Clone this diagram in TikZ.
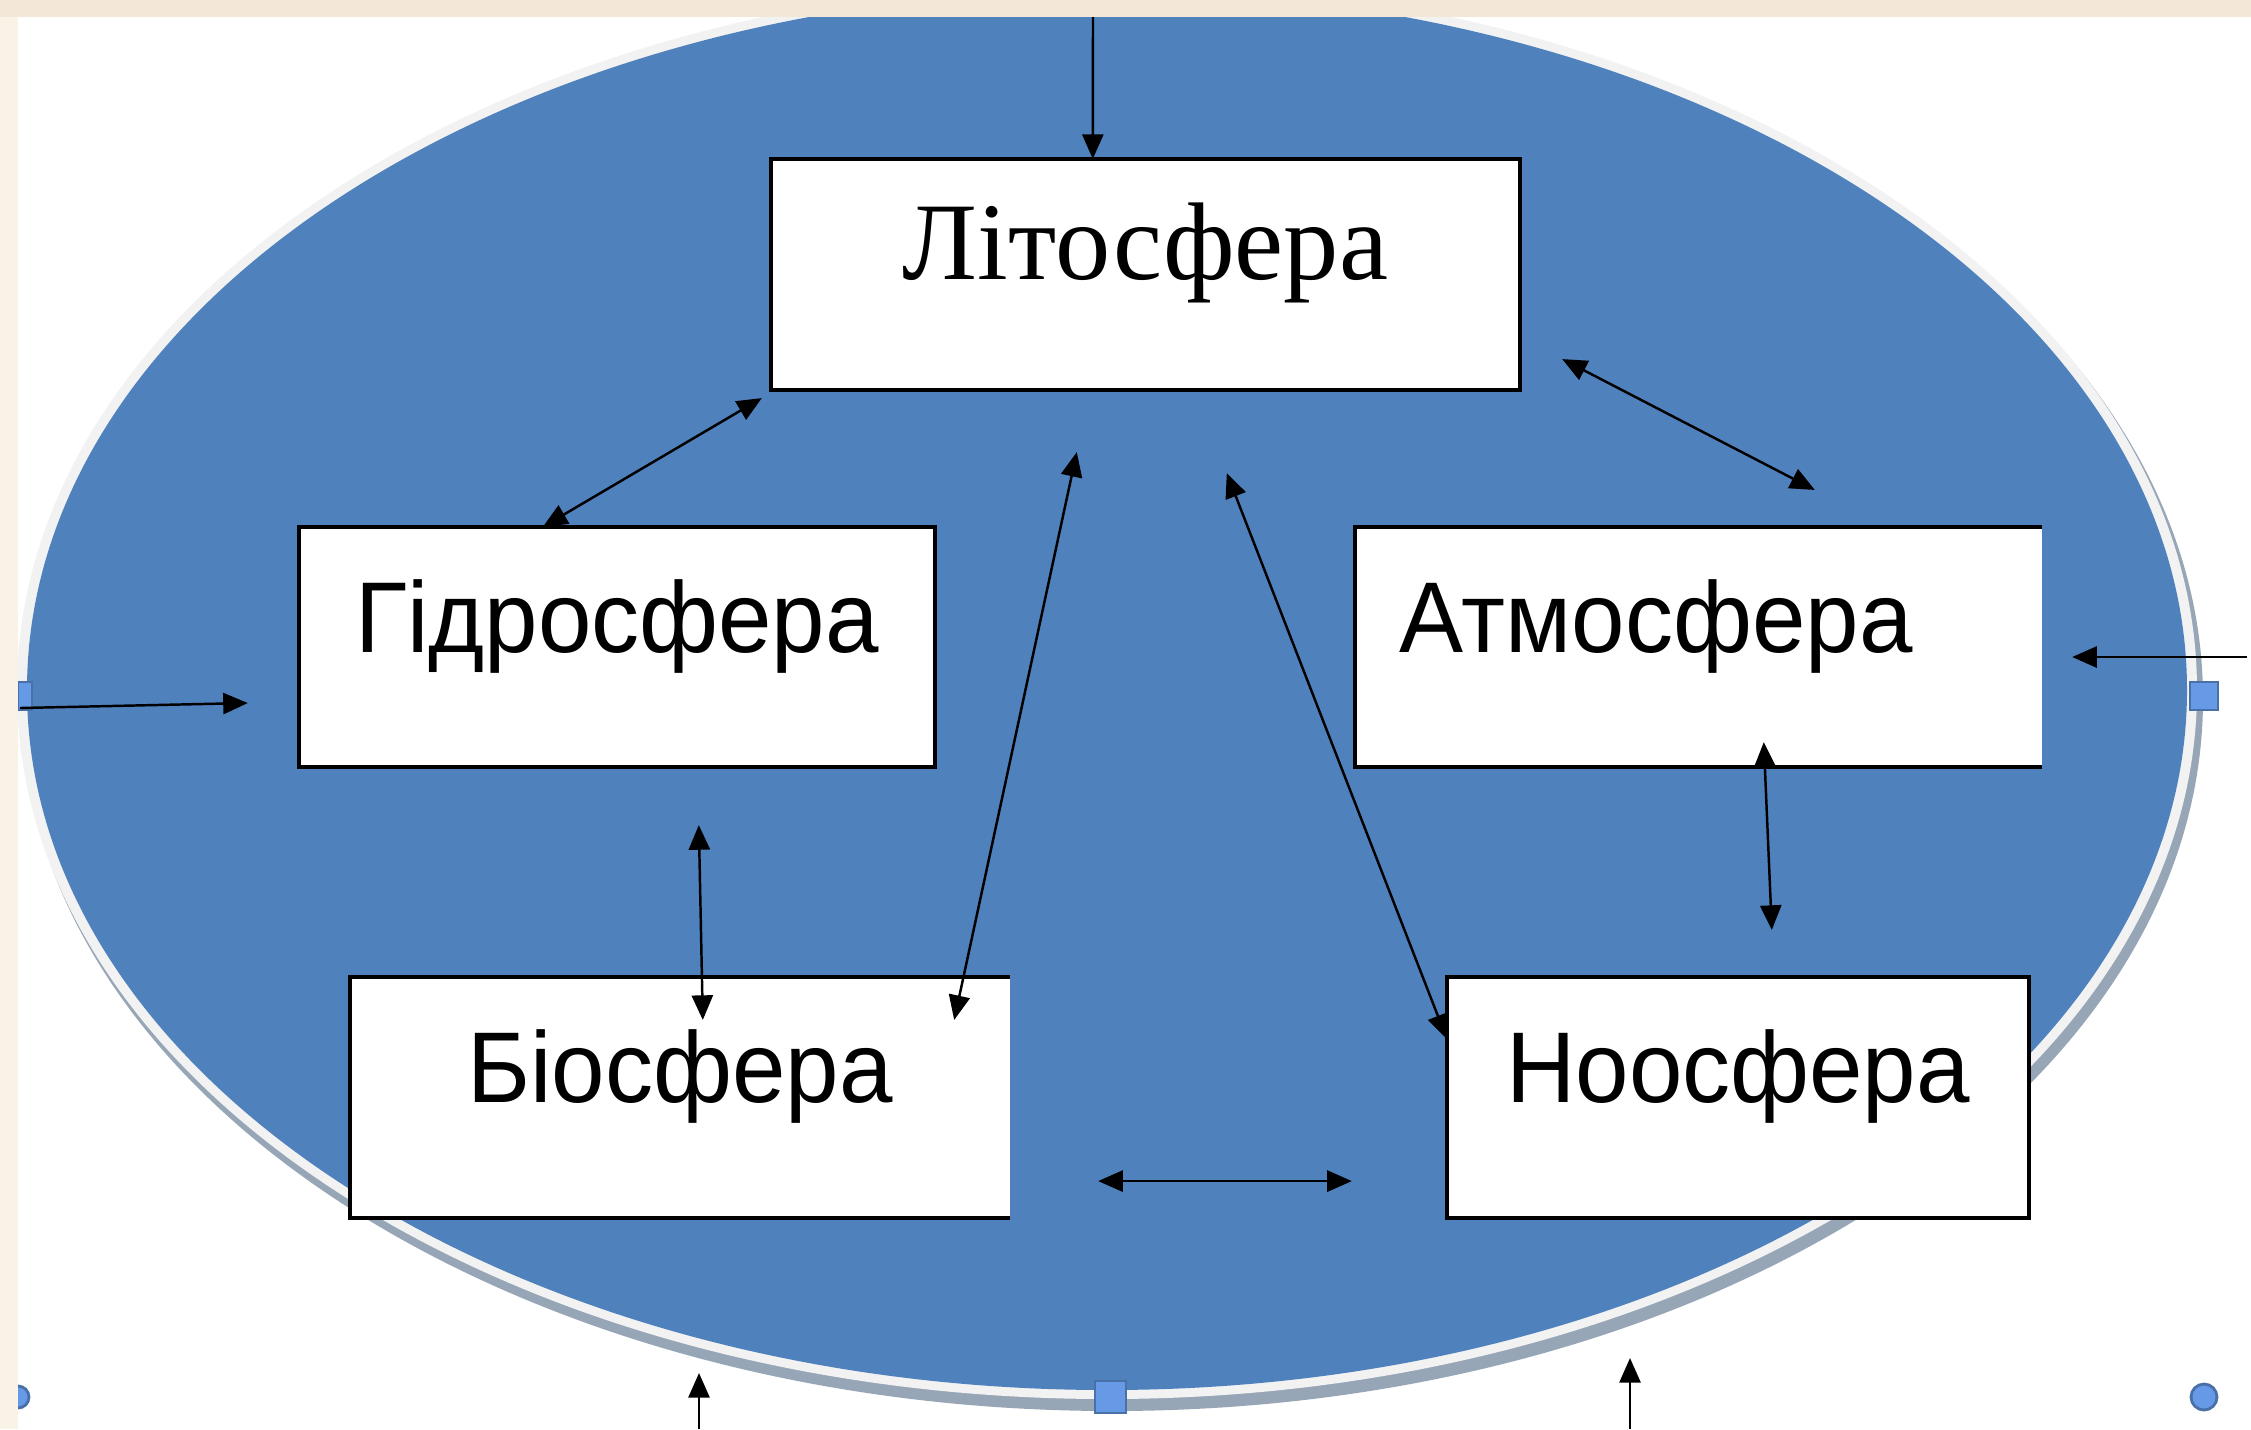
\documentclass[tikz,border=0pt]{standalone}
\usepackage{fontspec}
\setmainfont{Liberation Serif}
\newfontfamily\boxsans[FakeStretch=0.955]{Liberation Sans}
\usetikzlibrary{arrows.meta, calc}

\definecolor{ovalblue}{HTML}{4F81BD}
\definecolor{ovalrim}{HTML}{F2F2F2}
\definecolor{ovalshadow}{HTML}{97A6B7}
\definecolor{handleblue}{HTML}{6699E6}
\definecolor{handleedge}{HTML}{4A70A8}
\definecolor{papertop}{HTML}{F3E7D7}
\definecolor{paperside}{HTML}{F8F3E6}

\begin{document}
\begin{tikzpicture}[x=0.01cm, y=-0.01cm,
  % Node Styles
  spherebox/.style={rectangle, draw, line width=1.15pt, fill=white, inner sep=0pt, outer sep=0pt, text height=0.2cm, text depth=0.1cm, font=\boxsans\fontsize{28.6}{30}\selectfont},
  openbox/.style={spherebox, draw=none}, % right side left open
  handle/.style={fill=handleblue, draw=handleedge, line width=0.8pt},
  % Arrow Styles
  onearrow/.style={-{Triangle[length=7pt, width=6pt]}, line width=0.7pt},
  twoarrow/.style={{Triangle[length=7pt, width=6pt]}-{Triangle[length=7pt, width=6pt]}, line width=0.7pt}
]
\useasboundingbox (0,0) rectangle (2251,1429);
\fill[white] (0,0) rectangle (2251,1429);

% Oval
\begin{scope}
  \clip (0,0) rectangle (2251,1429);
  \fill[ovalshadow] (1112,699) ellipse [x radius=1091, y radius=712];
  \fill[ovalrim] (1107,690) ellipse [x radius=1090, y radius=709];
  \fill[ovalblue] (1107,690) ellipse [x radius=1080, y radius=700];
\end{scope}

% Selection handles
\draw[handle] (18,682) rectangle (32,710);
\draw[handle] (2190,682) rectangle (2218,710);
\draw[handle] (1095,1381) rectangle (1126,1413);
\draw[handle] (2204,1397) circle [radius=13];
\draw[handle] (18,1397) circle [radius=11];

% Paper edges
\fill[papertop] (0,0) rectangle (2251,17);
\fill[paperside] (0,17) rectangle (18,1429);

% Nodes
\node[spherebox, minimum width=7.49cm, minimum height=2.31cm, font=\rmfamily\fontsize{31.4}{32}\selectfont] (lito) at (1145.5,274.5) {Літосфера};
\node[spherebox, minimum width=6.36cm, minimum height=2.40cm] (hydro) at (617,647) {Гідросфера};
\node[openbox, minimum width=6.87cm, minimum height=2.40cm] (atmo) at (1698.5,647) {Атмосфера\hspace*{0.85cm}};
\node[openbox, minimum width=6.60cm, minimum height=2.41cm] (bio) at (680,1097.5) {Біосфера};
\node[spherebox, minimum width=5.82cm, minimum height=2.41cm] (noo) at (1738,1097.5) {Ноосфера};

% Borders of the open boxes
\draw[line width=1.15pt] (atmo.north east) -- (atmo.north west) -- (atmo.south west) -- (atmo.south east);
\draw[line width=1.15pt] (bio.north east) -- (bio.north west) -- (bio.south west) -- (bio.south east);

% Free ends
\coordinate (toptail) at (1093,17);
\coordinate (lefttail) at (20,708);
\coordinate (righttail) at (2247,657);
\coordinate (bottail1) at (699,1429);
\coordinate (bottip1) at (699,1373);
\coordinate (bottail2) at (1630,1429);
\coordinate (bottip2) at (1630,1358);

% Arrows
\draw[onearrow] (toptail) -- ([shift={(322,0)}]lito.north west);
\draw[twoarrow] ([shift={(-9,8)}]lito.south west) -- ([shift={(244,0)}]hydro.north west);
\draw[twoarrow] ([shift={(42,-31)}]lito.south east) -- ([shift={(460,-37)}]atmo.north west);
\draw[onearrow] (lefttail) -- ([shift={(-51,56)}]hydro.west);
\draw[onearrow] (righttail) -- ([shift={(30,10)}]atmo.east);
\draw[twoarrow] ([shift={(400,58)}]hydro.south west) -- ([shift={(353,43)}]bio.north west);
\draw[twoarrow] ([shift={(306,62)}]lito.south west) -- ([shift={(-56,43)}]bio.north east);
\draw[twoarrow] ([shift={(456,83)}]lito.south west) -- ([shift={(0,62)}]noo.north west);
\draw[twoarrow] ([shift={(409,-25)}]atmo.south west) -- ([shift={(325,-47)}]noo.north west);
\draw[twoarrow] ([shift={(88,-37)}]bio.south east) -- ([shift={(-95,-37)}]noo.south west);
\draw[onearrow] (bottail1) -- (bottip1);
\draw[onearrow] (bottail2) -- (bottip2);

\end{tikzpicture}
\end{document}
